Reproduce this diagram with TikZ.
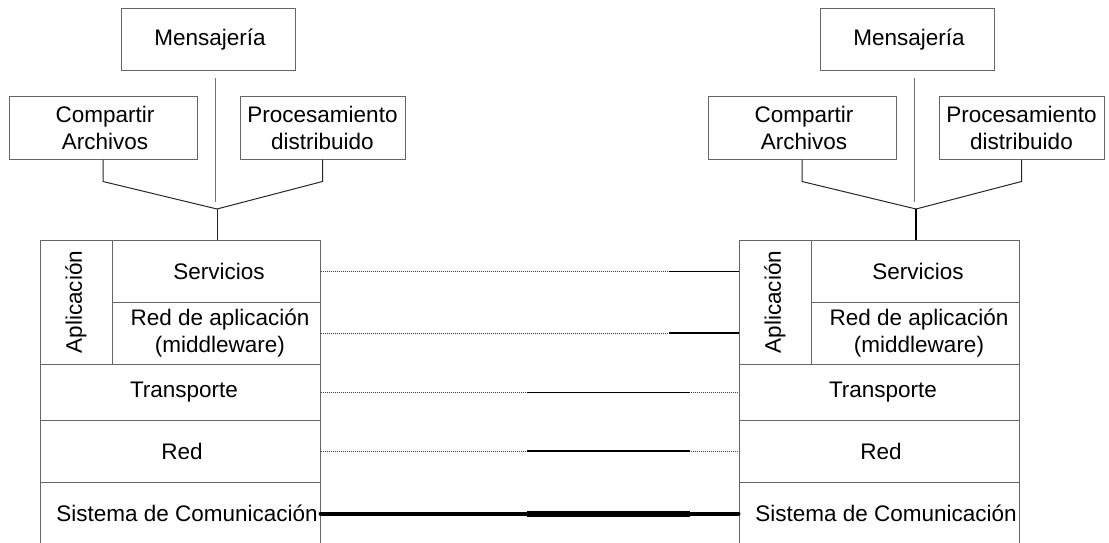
\documentclass[tikz,border=0pt]{standalone}
\usepackage{fontspec}
\setmainfont{Liberation Sans}
\usetikzlibrary{calc}
\tikzstyle{caja}=[draw=black!60, line width=1pt, inner sep=0pt, align=center]
\tikzstyle{rama}=[line width=1pt, black!85]
\tikzstyle{enlace}=[line width=1pt, dash pattern=on 1pt off 1pt, black!75]
\tikzstyle{tramo}=[line width=1pt, black]
\newcommand{\pila}[3]{
	\begin{scope}[shift={(#2,0)}]
	\node[caja, minimum width=174pt, minimum height=62pt] (#1men) at (168,40) {\hspace*{4pt}Mensajería};
	\node[caja, minimum width=188pt, minimum height=62pt] (#1comp) at (63,128) {\hspace*{4pt}Compartir\\\hspace*{4pt}Archivos};
	\node[caja, minimum width=165pt, minimum height=62pt] (#1proc) at (282.5,128) {Procesamiento\\distribuido};
	\coordinate (#1j) at (177,209);
%
	\node[caja, minimum width=72pt, minimum height=124pt] (#1apl) at (36,302) {\rotatebox{90}{Aplicación}};
	\node[caja, minimum width=208pt, minimum height=62pt] (#1serv) at (176,271) {\hspace*{6pt}Servicios};
	\node[caja, minimum width=208pt, minimum height=62pt] (#1mid) at (176,333) {\hspace*{8pt}Red de aplicación\\\hspace*{8pt}(middleware)};
	\node[caja, minimum width=280pt, minimum height=56pt] (#1trans) at (140,392) {\hspace*{8pt}Transporte};
	\node[caja, minimum width=280pt, minimum height=62pt] (#1red) at (140,451) {\hspace*{4pt}Red};
	\node[caja, minimum width=280pt, minimum height=63pt] (#1sis) at (140,513.5) {\hspace*{14pt}Sistema de Comunicación};
%
	\draw[rama, black!55] ($(#1j |- #1men.south)+(-2,7)$) -- ($(#1j)+(-2,-7)$);
	\draw[rama] (#1comp.south) -- ++(0,22) -- (#1j);
	\draw[rama] (#1proc.south) -- ++(0,22) -- (#1j);
	\draw[rama, #3] (#1j) -- (#1j |- #1serv.north);
	\end{scope}
}

\begin{document}
\begin{tikzpicture}[x=1pt, y=-1pt, font=\fontsize{22.5}{27}\selectfont]
	\useasboundingbox (0,0) rectangle (1109,543);
	\pila{l}{40}{}
	\pila{r}{739}{line width=2pt, black}
%
	\coordinate (rs) at (lserv -| rapl.west);
	\coordinate (rm) at (lmid -| rapl.west);
	\draw[enlace] (lserv.east) -- (rs);
	\draw[enlace] (lmid.east) -- (rm);
	\draw[enlace] (ltrans.east) -- (rtrans.west);
	\draw[enlace] (lred.east) -- (rred.west);
	\draw[line width=4pt, line cap=round] (lsis.east) -- (rsis.west);
%
	\draw[tramo] ($(lserv.east)!.833!(rs)$) -- (rs);
	\draw[tramo, line width=1.5pt] ($(lmid.east)!.833!(rm)$) -- (rm);
	\draw[tramo] ($(ltrans.east)!.495!(rtrans.west)$) -- ($(ltrans.east)!.883!(rtrans.west)$);
	\draw[tramo, line width=1.5pt] ($(lred.east)!.495!(rred.west)$) -- ($(lred.east)!.883!(rred.west)$);
	\draw[line width=6pt] ($(lsis.east)!.495!(rsis.west)$) -- ($(lsis.east)!.883!(rsis.west)$);
\end{tikzpicture}
\end{document}
